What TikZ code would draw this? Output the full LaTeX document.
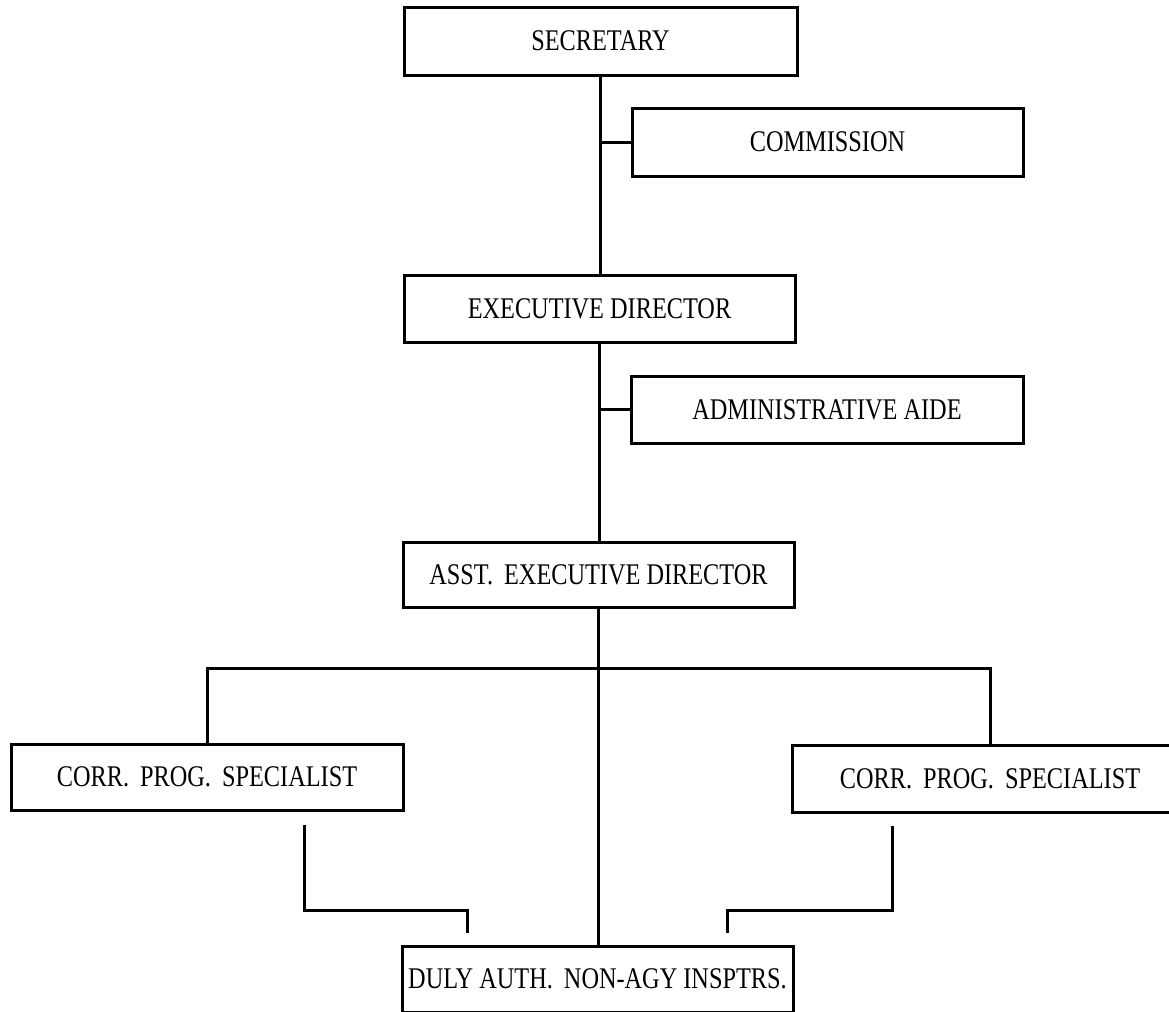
\documentclass[tikz,border=0pt]{standalone}
\usepackage{fontspec}
\setmainfont{Liberation Serif}[FakeStretch=0.81]
\newcommand{\psp}{\hspace{2.5pt}}
\begin{document}
\begin{tikzpicture}[x=0.5pt,y=-0.5pt,
  orgbox/.style={draw, line width=1.5pt, inner sep=0pt, text height=9.9pt, text depth=0pt,
    font=\fontsize{15}{18}\selectfont},
  link/.style={line width=1.5pt}]
\useasboundingbox (0,0) rectangle (1169,1012);
\clip (0,0) rectangle (1169,1012);
\node[orgbox, minimum width=196.5pt, minimum height=34pt] (sec) at (600.5,41) {SECRETARY};
\node[orgbox, minimum width=195.5pt, minimum height=34pt] (com) at (827.5,142) {COMMISSION};
\node[orgbox, minimum width=195.5pt, minimum height=33.5pt] (exe) at (599.5,308.5) {EXECUTIVE DIRECTOR};
\node[orgbox, minimum width=196pt, minimum height=33.5pt] (adm) at (827,409.5) {ADMINISTRATIVE AIDE};
\node[orgbox, minimum width=195.5pt, minimum height=32.5pt] (asst) at (598.5,574.5) {ASST.\psp{} EXECUTIVE DIRECTOR};
\node[orgbox, minimum width=196pt, minimum height=33pt] (corrL) at (207,777) {CORR.\psp{} PROG.\psp{} SPECIALIST};
\node[orgbox, minimum width=198pt, minimum height=33.5pt] (corrR) at (990,778.5) {CORR.\psp{} PROG.\psp{} SPECIALIST};
\node[orgbox, minimum width=195.5pt, minimum height=33pt] (duly) at (597.5,979) {DULY AUTH.\psp{} NON-AGY INSPTRS.};
\coordinate (bar) at (600,668);
\coordinate (lA) at (304,825);
\coordinate (lB) at (467,910);
\coordinate (lC) at (467,933);
\coordinate (rA) at (892,826);
\coordinate (rB) at (727,910);
\coordinate (rC) at (727,933);
\draw[link] (sec.south) -- (sec.south |- exe.north);
\draw[link] (com.west) -- (com.west -| sec.south);
\draw[link] (exe.south) -- (exe.south |- asst.north);
\draw[link] (adm.west) -- (adm.west -| exe.south);
\draw[link] (asst.south) -- (asst.south |- duly.north);
\draw[link] (corrL.north) |- (bar) -| (corrR.north);
\draw[link] (lA) |- (lB) -- (lC);
\draw[link] (rA) |- (rB) -- (rC);
\end{tikzpicture}
\end{document}
